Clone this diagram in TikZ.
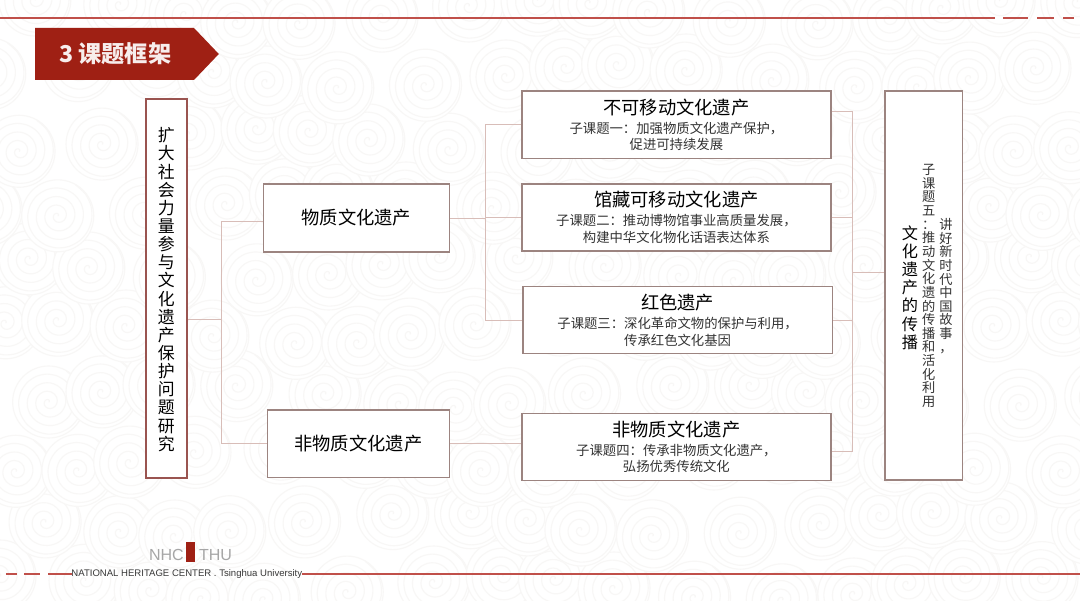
\documentclass[tikz,border=0pt]{standalone}
\usepackage{fontspec}
\setmainfont{Noto Sans CJK SC}
\newfontfamily\latinfont{Liberation Sans}
\definecolor{boxline}{HTML}{9C8480}
\definecolor{mainline}{HTML}{9A5450}
\definecolor{linkcolor}{HTML}{D8BDB8}
\definecolor{rulered}{HTML}{C0504A}
\definecolor{swirl}{HTML}{F8F7F6}
\definecolor{titlered}{HTML}{9F2014}
\definecolor{logogray}{HTML}{A6A6A6}
\newcommand{\topictext}[3]{\fontsize{13}{15}\selectfont #1\\[1.5pt]\fontsize{9.5}{11}\selectfont\color{black!80} #2\\\fontsize{9.5}{11}\selectfont\color{black!80} #3}
\tikzset{
  framebox/.style={draw=boxline, line width=1pt, fill=white, inner sep=0pt, align=center},
  topicbox/.style={framebox, minimum width=7.73cm, minimum height=1.68cm},
  stacklabel/.style={align=center, inner sep=0pt},
  link/.style={draw=linkcolor, line width=0.7pt},
  redline/.style={draw=rulered, line width=0.9pt},
  spiral/.style={draw=swirl, line width=0.8pt},
  headfont/.style={font=\fontsize{13}{15}\selectfont},
}
\begin{document}
\begin{tikzpicture}
    \useasboundingbox (0,0) rectangle (27,15);
    % background
    \fill[white] (0,0) rectangle (27,15);
    \begin{scope}
        \clip (0,0) rectangle (27,15);
        \foreach \row in {0,...,9} {
            \foreach \col in {0,...,16} {
                \pgfmathsetmacro{\cx}{\col*1.75+mod(\row,2)*0.87+0.4*sin(\col*70+\row*40)}
                \pgfmathsetmacro{\cy}{\row*1.6+0.3+0.3*cos(\col*50+\row*80)}
                \draw[spiral, fill=white] (\cx,\cy) circle (0.9);
                \draw[spiral] plot[domain=0:1500, samples=70, smooth] ({\cx+0.0006*\x*cos(\x)},{\cy+0.0006*\x*sin(\x)});
            }
        }
    \end{scope}
    % red rules
    \draw[redline] (0,14.55) -- (24.875,14.55);
    \draw[redline] (25.08,14.55) -- (25.7,14.55);
    \draw[redline] (25.93,14.55) -- (26.35,14.55);
    \draw[redline] (26.58,14.55) -- (26.85,14.55);
    \draw[redline] (0.15,0.65) -- (0.43,0.65);
    \draw[redline] (0.6,0.65) -- (1.0,0.65);
    \draw[redline] (1.2,0.65) -- (1.8,0.65);
    \draw[redline] (7.55,0.65) -- (27,0.65);
    % title
    \fill[titlered] (0.88,14.3) -- (4.85,14.3) -- (5.47,13.65) -- (4.85,13) -- (0.88,13) -- cycle;
    \node[text=white!92!titlered, font=\bfseries\fontsize{16.5}{18}\selectfont, anchor=west, inner sep=0pt] (title) at (1.47,13.65) {3 课题框架};
    % logo
    \node[text=logogray, font=\latinfont\fontsize{11.4}{12}\selectfont, anchor=east, inner sep=0pt] (nhc) at (4.6,1.125) {NHC};
    \fill[titlered] (4.66,0.95) rectangle (4.87,1.45);
    \node[text=logogray, font=\latinfont\fontsize{11.4}{12}\selectfont, anchor=west, inner sep=0pt] (thu) at (4.97,1.125) {THU};
    \node[text=black!78, font=\latinfont\fontsize{6.8}{8}\selectfont, inner sep=0pt] (center) at (4.67,0.65) {NATIONAL HERITAGE CENTER . Tsinghua University};
    % boxes
    \node[framebox, draw=mainline, minimum width=1.02cm, minimum height=9.47cm] (root) at (4.16,7.79) {};
    \node[stacklabel, font=\fontsize{12}{12.9}\selectfont] (rootlabel) at (4.16,7.76) {扩\\大\\社\\会\\力\\量\\参\\与\\文\\化\\遗\\产\\保\\护\\问\\题\\研\\究};
    \node[framebox, minimum width=4.65cm, minimum height=1.7cm, headfont] (tangible) at (8.91,9.55) {物质文化遗产};
    \node[framebox, minimum width=4.55cm, minimum height=1.68cm, headfont] (intangible) at (8.96,3.91) {非物质文化遗产};
    \node[topicbox] (topicone) at (16.91,11.88) {\topictext{不可移动文化遗产}{子课题一：加强物质文化遗产保护，}{促进可持续发展}};
    \node[topicbox] (topictwo) at (16.91,9.56) {\topictext{馆藏可移动文化遗产}{子课题二：推动博物馆事业高质量发展，}{构建中华文化物化话语表达体系}};
    \node[topicbox] (topicthree) at (16.94,7.0) {\topictext{红色遗产}{子课题三：深化革命文物的保护与利用，}{传承红色文化基因}};
    \node[topicbox] (topicfour) at (16.91,3.83) {\topictext{非物质文化遗产}{子课题四：传承非物质文化遗产，}{弘扬优秀传统文化}};
    \node[framebox, minimum width=1.93cm, minimum height=9.72cm] (spread) at (23.09,7.86) {};
    \node[stacklabel, font=\fontsize{11.5}{12.9}\selectfont] (spreadhead) at (22.75,7.81) {文\\化\\遗\\产\\的\\传\\播};
    \node[stacklabel, text=black!80, font=\fontsize{9.4}{9.7}\selectfont] (spreadleft) at (23.22,7.85) {子\\课\\题\\五\\：\\推\\动\\文\\化\\遗\\的\\传\\播\\和\\活\\化\\利\\用};
    \node[stacklabel, text=black!80, font=\fontsize{9.4}{9.7}\selectfont] (spreadright) at (23.65,7.85) {讲\\好\\新\\时\\代\\中\\国\\故\\事\\，};
    % connectors
    \coordinate (rootjoin) at (5.53,7.02);
    \coordinate (midbus) at (12.14,7.0);
    \coordinate (rightbus) at (21.3,8.18);
    \coordinate (oneout) at (19.0,12.225);
    \coordinate (fourin) at (12,3.92);
    \coordinate (fourout) at (19.0,3.71);
    \draw[link] (root.east |- rootjoin) -- (rootjoin);
    \draw[link] (tangible.west |- 0,9.46) -- (rootjoin |- 0,9.46) -- (rootjoin |- intangible.west) -- (intangible.west);
    \draw[link] (tangible.east) -- (midbus |- tangible.east);
    \draw[link] (topicone.west) -- (midbus |- topicone.west) -- (midbus |- topicthree.west) -- (topicthree.west);
    \draw[link] (midbus |- topictwo.west) -- (topictwo.west);
    \draw[link] (intangible.east |- fourin) -- (topicfour.west |- fourin);
    \draw[link] (topicone.east |- oneout) -- (rightbus |- oneout) -- (rightbus |- fourout) -- (topicfour.east |- fourout);
    \draw[link] (topictwo.east) -- (rightbus |- topictwo.east);
    \draw[link] (topicthree.east) -- (rightbus |- topicthree.east);
    \draw[link] (rightbus) -- (spread.west |- rightbus);
\end{tikzpicture}
\end{document}
